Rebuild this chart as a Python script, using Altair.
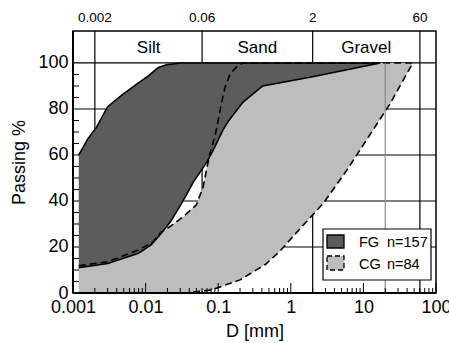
import altair as alt
import pandas as pd

# ---- data ----
# FG band (solid outline)
fg_upper_d = [0.0012, 0.0016, 0.0021, 0.003, 0.0047, 0.007, 0.011, 0.015, 0.02, 0.03]
fg_upper_p = [60, 67, 72, 81, 86, 90, 94.5, 98, 99.3, 100]
fg_lower_d = [0.0012, 0.003, 0.008, 0.012, 0.016, 0.022, 0.03, 0.037, 0.045, 0.07, 0.085, 0.117, 0.14, 0.22, 0.41, 2, 17]
fg_lower_p = [11, 12.8, 17.3, 21, 25.5, 31, 38, 43, 48, 57, 62, 71, 75, 83, 90, 94, 100]

# CG band (dashed outline)
cg_upper_d = [0.0012, 0.003, 0.008, 0.0127, 0.016, 0.022, 0.033, 0.05, 0.062, 0.069, 0.077, 0.09, 0.1, 0.11, 0.123, 0.145, 0.18, 0.22]
cg_upper_p = [11.8, 13.6, 18.7, 22.3, 26.3, 29, 33.2, 38.3, 46, 53.5, 60.7, 68, 75, 82, 89, 95, 98.4, 100]
cg_lower_d = [0.0012, 0.036, 0.08, 0.2, 0.45, 0.7, 1.3, 2.8, 5.8, 23, 48]
cg_lower_p = [0, 0, 1.3, 5.7, 12.5, 18, 27.5, 39, 53, 82, 100]

# grain-size classes
class_bounds = [0.002, 0.06, 2, 60]
class_bound_labels = ["0.002", "0.06", "2", "60"]
class_names = ["Silt", "Sand", "Gravel"]
class_centers = [0.011, 0.346, 10.95]

# axes
x_major = [0.001, 0.01, 0.1, 1, 10, 100]
x_minor_mult = [2, 3, 4, 5, 6, 7, 8, 9]
y_grid = [20, 40, 60, 80, 100]
y_ticks = [5, 10, 15, 25, 30, 35, 45, 50, 55, 65, 70, 75, 85, 90, 95]
ref_line_d = 20

legend_names = ["FG", "CG"]
legend_counts = ["n=157", "n=84"]

DARK = "#5c5c5c"
LIGHT = "#bdbdbd"
FONT = "Liberation Sans"
W, H = 363, 262


def polygon(ud, up, ld, lp):
    d = list(ud) + list(reversed(ld))
    p = list(up) + list(reversed(lp))
    return pd.DataFrame({"D": d, "P": p, "i": list(range(len(d)))})


fg = polygon(fg_upper_d, fg_upper_p, fg_lower_d, fg_lower_p)
cg = polygon(cg_upper_d, cg_upper_p, cg_lower_d, cg_lower_p)

xs = alt.Scale(type="log", domain=[0.001, 100], nice=False)
ys = alt.Scale(domain=[0, 113.9], nice=False, zero=False)

x_axis = alt.Axis(values=x_major, format="~g", grid=False, ticks=False, domain=False,
                  labelFontSize=18, labelFont=FONT, labelColor="black", labelPadding=5,
                  labelFlush=False, labelOverlap=False,
                  title="D [mm]", titleFontSize=18, titleFont=FONT, titleFontWeight="normal",
                  titleColor="black", titlePadding=6)
y_axis = alt.Axis(values=[0, 20, 40, 60, 80, 100], grid=False, ticks=False, domain=False,
                  labelFontSize=18, labelFont=FONT, labelColor="black", labelPadding=5,
                  title="Passing %", titleFontSize=18, titleFont=FONT, titleFontWeight="normal",
                  titleColor="black", titlePadding=9)

X = alt.X("D:Q", scale=xs, axis=x_axis)
Y = alt.Y("P:Q", scale=ys, axis=y_axis)

grid_h = alt.Chart(pd.DataFrame({"P": y_grid})).mark_rule(color="black", strokeWidth=1.2).encode(y=Y)
grid_v = alt.Chart(pd.DataFrame({"D": class_bounds})).mark_rule(color="black", strokeWidth=1.2).encode(x=X)

cg_fill = alt.Chart(cg).mark_line(fill=LIGHT, strokeOpacity=0, interpolate="linear").encode(x=X, y=Y, order="i:Q")
fg_fill = alt.Chart(fg).mark_line(fill=DARK, strokeOpacity=0, interpolate="linear").encode(x=X, y=Y, order="i:Q")
cg_line = alt.Chart(cg).mark_line(color="black", strokeWidth=1.6, strokeDash=[7, 4]).encode(x=X, y=Y, order="i:Q")
fg_line = alt.Chart(fg).mark_line(color="black", strokeWidth=1.6).encode(x=X, y=Y, order="i:Q")

ref20 = alt.Chart(pd.DataFrame({"D": [ref_line_d], "P": [0], "P2": [100]})).mark_rule(
    color="#8a8a8a", strokeWidth=1.2).encode(x=X, y=Y, y2="P2:Q")

minor_vals = [m * d for d in x_major[:-1] for m in x_minor_mult]
tick_minor = alt.Chart(pd.DataFrame({"D": minor_vals})).mark_rule(color="black", strokeWidth=1).encode(
    x=X, y=alt.value(H), y2=alt.value(H - 5))
tick_major = alt.Chart(pd.DataFrame({"D": x_major})).mark_rule(color="black", strokeWidth=1).encode(
    x=X, y=alt.value(H), y2=alt.value(H - 10))
tick_left = alt.Chart(pd.DataFrame({"P": y_ticks})).mark_rule(color="black", strokeWidth=1).encode(
    y=Y, x=alt.value(0), x2=alt.value(6))

one = pd.DataFrame({"a": [0]})
border_l = alt.Chart(one).mark_rule(color="black", strokeWidth=2).encode(
    x=alt.value(0), y=alt.value(0), y2=alt.value(H))
border_b = alt.Chart(one).mark_rule(color="black", strokeWidth=2).encode(
    x=alt.value(0), x2=alt.value(W), y=alt.value(H))

zone_txt = alt.Chart(pd.DataFrame({"D": class_centers, "t": class_names})).mark_text(
    fontSize=17, font=FONT, color="black", baseline="alphabetic", align="center").encode(
    x=X, y=alt.value(22), text="t:N")
top_txt = alt.Chart(pd.DataFrame({"D": class_bounds, "t": class_bound_labels})).mark_text(
    fontSize=13.5, font=FONT, color="black", baseline="alphabetic", align="center").encode(
    x=X, y=alt.value(-9), text="t:N")

# legend (drawn manually)
leg_box = alt.Chart(one).mark_rect(fill="white", stroke="black", strokeWidth=1.2).encode(
    x=alt.value(250), x2=alt.value(358), y=alt.value(198), y2=alt.value(249))
leg_fg = alt.Chart(one).mark_rect(fill=DARK, stroke="black", strokeWidth=1.3).encode(
    x=alt.value(254), x2=alt.value(271), y=alt.value(204), y2=alt.value(217))
leg_cg = alt.Chart(one).mark_rect(fill=LIGHT, stroke="black", strokeWidth=1.3, strokeDash=[5, 3]).encode(
    x=alt.value(254), x2=alt.value(271), y=alt.value(225), y2=alt.value(239))
leg_df = pd.DataFrame({"name": legend_names, "n": legend_counts, "row": [0, 1]})
leg_name = alt.Chart(leg_df).transform_calculate(yy="216 + datum.row * 21.5").mark_text(
    fontSize=14.5, font=FONT, color="black", align="left", baseline="alphabetic").encode(
    x=alt.value(286), y=alt.Y("yy:Q", scale=None), text="name:N")
leg_n = alt.Chart(leg_df).transform_calculate(yy="216 + datum.row * 21.5").mark_text(
    fontSize=14.5, font=FONT, color="black", align="left", baseline="alphabetic").encode(
    x=alt.value(314), y=alt.Y("yy:Q", scale=None), text="n:N")

chart = alt.layer(
    grid_h, grid_v, cg_fill, fg_fill, cg_line, fg_line, ref20,
    tick_minor, tick_major, tick_left, border_l, border_b,
    zone_txt, top_txt, leg_box, leg_fg, leg_cg, leg_name, leg_n,
).properties(
    width=W, height=H,
    autosize=alt.AutoSizeParams(type="none"),
    padding={"left": 73, "top": 31, "right": 13, "bottom": 50},
    background="white",
).configure_view(stroke="black", strokeWidth=1.5)

chart.save("out.html", embed_options={"renderer": "svg", "actions": False})
